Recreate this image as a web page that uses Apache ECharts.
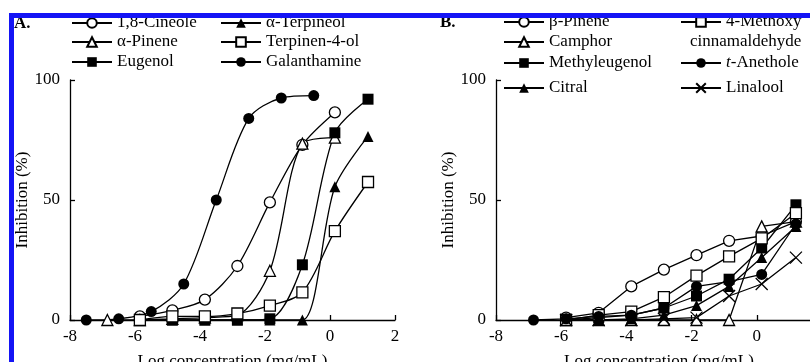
<!DOCTYPE html>
<html>
<head>
<meta charset="utf-8">
<script src="https://cdn.jsdelivr.net/npm/echarts@6/dist/echarts.min.js"></script>
<style>
  html, body { margin: 0; padding: 0; background: #fff; }
  #chart { width: 810px; height: 362px; }
</style>
</head>
<body>
<div id="chart"></div>
<script>
// panel A: [log concentration, inhibition %]
var cineole = [[-5.85, 1.5], [-4.85, 4], [-3.85, 8.5], [-2.85, 22.5], [-1.85, 49], [-0.85, 73], [0.15, 86.5]];
var aPinene = [[-6.85, 0], [-5.85, 0], [-4.85, 0.5], [-3.85, 1], [-2.85, 2], [-1.85, 20.5], [-0.85, 73.5], [0.15, 76]];
var eugenol = [[-5.85, 0], [-4.85, 0], [-3.85, 0], [-2.85, 0], [-1.85, 0.5], [-0.85, 23], [0.15, 78], [1.17, 92]];
var aTerpineol = [[-5.85, 0], [-4.85, 0], [-3.85, 0], [-2.85, 0], [-1.85, 0], [-0.85, 0], [0.15, 55.5], [1.17, 76.5]];
var terpinen4ol = [[-5.85, 0], [-4.85, 1.5], [-3.85, 1.5], [-2.85, 2.7], [-1.85, 6], [-0.85, 11.5], [0.15, 37], [1.17, 57.5]];
var galanthamine = [[-7.5, 0], [-6.5, 0.5], [-5.5, 3.5], [-4.5, 15], [-3.5, 50], [-2.5, 84], [-1.5, 92.5], [-0.5, 93.5]];

// panel B
var bPinene = [[-5.85, 1], [-4.85, 3], [-3.85, 14], [-2.85, 21], [-1.85, 27], [-0.85, 33], [0.15, 35], [1.2, 41]];
var camphor = [[-5.85, 0], [-4.85, 0], [-3.85, 0], [-2.85, 0], [-1.85, 0], [-0.85, 0], [0.15, 39], [1.2, 41]];
var methyleugenol = [[-5.85, 0], [-4.85, 1], [-3.85, 2], [-2.85, 5], [-1.85, 10], [-0.85, 17], [0.15, 30], [1.2, 48]];
var citral = [[-5.85, 0], [-4.85, 0], [-3.85, 0.5], [-2.85, 2], [-1.85, 6], [-0.85, 14], [0.15, 26], [1.2, 39]];
var methoxyCinn = [[-5.85, 0], [-4.85, 2], [-3.85, 3.5], [-2.85, 9.5], [-1.85, 18.5], [-0.85, 26.5], [0.15, 34], [1.2, 44.5]];
var anethole = [[-6.85, 0], [-5.85, 0.5], [-4.85, 1.5], [-3.85, 2], [-2.85, 5], [-1.85, 14], [-0.85, 16], [0.15, 19], [1.2, 40]];
var linalool = [[-5.85, 0], [-4.85, 0], [-3.85, 0], [-2.85, 0.5], [-1.85, 1], [-0.85, 10], [0.15, 15], [1.2, 26]];

var xTicks = [-8, -6, -4, -2, 0, 2];
var yTicks = [0, 50, 100];

var FONT = '"Liberation Serif", "Times New Roman", serif';
var CROSS = 'path://M0,0L10,10M10,0L0,10';

function mk(name, data, symbol, open, idx) {
	return {
		name: name,
		type: 'line',
		xAxisIndex: idx,
		yAxisIndex: idx,
		data: data,
		symbol: symbol,
		symbolSize: symbol === CROSS ? 12 : 11,
		smooth: idx === 0 ? 0.3 : false,
		color: '#000',
		lineStyle: { color: '#000', width: 1.3 },
		itemStyle: {
			color: open ? '#fff' : '#000',
			borderColor: '#000',
			borderWidth: open || symbol === CROSS ? 1.3 : 0
		},
		emphasis: { disabled: true },
		z: 3
	};
}

function leg(name, left, top) {
	return {
		data: [name],
		left: left,
		top: top,
		padding: 0,
		itemWidth: 40,
		itemHeight: 12,
		selectedMode: false,
		textStyle: {
			fontFamily: FONT, fontSize: 17, color: '#000', lineHeight: 20,
			rich: { i: { fontFamily: FONT, fontSize: 17, fontStyle: 'italic', color: '#000' } }
		},
		formatter: function (n) {
			if (n === 't-Anethole') return '{i|t}-Anethole';
			if (n === '4-Methoxy cinnamaldehyde') return '4-Methoxy';
			return n;
		}
	};
}

function xAx(idx) {
	return {
		type: 'value', gridIndex: idx, min: -8, max: 2, interval: 2,
		name: 'Log concentration (mg/mL)', nameLocation: 'middle', nameGap: 33,
		nameTextStyle: { fontFamily: FONT, fontSize: 17, color: '#000' },
		axisLine: { onZero: false, lineStyle: { color: '#000', width: 1.3 } },
		axisTick: { inside: true, length: 5, lineStyle: { color: '#000', width: 1.3 } },
		axisLabel: { fontFamily: FONT, fontSize: 17, color: '#000', margin: 8,
			formatter: function (v) { return xTicks.indexOf(v) >= 0 ? String(v) : ''; } },
		splitLine: { show: false }
	};
}

function yAx(idx) {
	return {
		type: 'value', gridIndex: idx, min: 0, max: 100, interval: 50,
		name: 'Inhibition (%)', nameLocation: 'middle', nameGap: 29,
		nameTextStyle: { fontFamily: FONT, fontSize: 17, color: '#000' },
		axisLine: { show: true, onZero: false, lineStyle: { color: '#000', width: 1.3 } },
		axisTick: { show: true, inside: true, length: 5, lineStyle: { color: '#000', width: 1.3 } },
		axisLabel: { fontFamily: FONT, fontSize: 17, color: '#000', margin: 10,
			formatter: function (v) { return yTicks.indexOf(v) >= 0 ? String(v) : ''; } },
		splitLine: { show: false }
	};
}

var chart = echarts.init(document.getElementById('chart'));
chart.setOption({
	animation: false,
	backgroundColor: '#fff',
	grid: [
		{ left: 70, top: 80, width: 325, height: 240, outerBoundsMode: 'none', containLabel: false },
		{ left: 496, top: 80, width: 326, height: 240, outerBoundsMode: 'none', containLabel: false }
	],
	xAxis: [xAx(0), xAx(1)],
	yAxis: [yAx(0), yAx(1)],
	legend: [
		leg('1,8-Cineole', 71, 13),
		leg('α-Pinene', 71, 32),
		leg('Eugenol', 71, 52),
		leg('α-Terpineol', 220, 13),
		leg('Terpinen-4-ol', 220, 32),
		leg('Galanthamine', 220, 52),
		leg('β-Pinene', 503, 12),
		leg('Camphor', 503, 32),
		leg('Methyleugenol', 503, 53),
		leg('Citral', 503, 78),
		leg('4-Methoxy cinnamaldehyde', 680, 12),
		leg('t-Anethole', 680, 53),
		leg('Linalool', 680, 78)
	],
	series: [
		mk('1,8-Cineole', cineole, 'circle', true, 0),
		mk('α-Pinene', aPinene, 'triangle', true, 0),
		mk('Eugenol', eugenol, 'rect', false, 0),
		mk('α-Terpineol', aTerpineol, 'triangle', false, 0),
		mk('Terpinen-4-ol', terpinen4ol, 'rect', true, 0),
		mk('Galanthamine', galanthamine, 'circle', false, 0),
		mk('β-Pinene', bPinene, 'circle', true, 1),
		mk('Camphor', camphor, 'triangle', true, 1),
		mk('Methyleugenol', methyleugenol, 'rect', false, 1),
		mk('Citral', citral, 'triangle', false, 1),
		mk('4-Methoxy cinnamaldehyde', methoxyCinn, 'rect', true, 1),
		mk('t-Anethole', anethole, 'circle', false, 1),
		mk('Linalool', linalool, CROSS, true, 1)
	],
	graphic: [
		{ type: 'text', left: 14, top: 15, style: { text: 'A.', font: 'bold 17px ' + FONT, fill: '#000' } },
		{ type: 'text', left: 440, top: 14, style: { text: 'B.', font: 'bold 17px ' + FONT, fill: '#000' } },
		{ type: 'text', left: 690, top: 32, style: { text: 'cinnamaldehyde', font: '17px ' + FONT, fill: '#000', lineHeight: 20 } },
		{ type: 'rect', z: 100, shape: { x: 9, y: 13, width: 801, height: 5 }, style: { fill: '#1414f5' } },
		{ type: 'rect', z: 100, shape: { x: 9, y: 13, width: 5, height: 349 }, style: { fill: '#1414f5' } }
	]
});
</script>
</body>
</html>
